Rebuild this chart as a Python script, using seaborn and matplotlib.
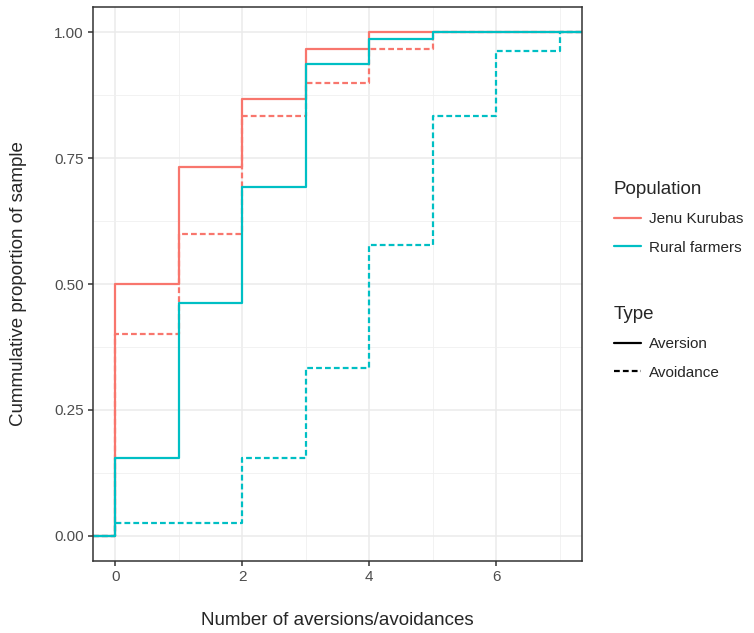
import numpy as np
import pandas as pd
import matplotlib
matplotlib.use("Agg")
import matplotlib.pyplot as plt
from matplotlib.lines import Line2D
from matplotlib.ticker import MultipleLocator, FormatStrFormatter
import seaborn as sns

# ==============================
# DATA (cumulative proportions)
# ==============================
x_levels = [0, 1, 2, 3, 4, 5, 6, 7]

jenu_aversion = [0.500, 0.733, 0.867, 0.967, 1.000]
jenu_avoidance = [0.400, 0.600, 0.833, 0.900, 0.967, 1.000]
rural_aversion = [0.154, 0.462, 0.692, 0.936, 0.987, 1.000]
rural_avoidance = [0.026, 0.026, 0.154, 0.333, 0.577, 0.833, 0.962, 1.000]

populations = ["Jenu Kurubas", "Rural farmers"]
types = ["Aversion", "Avoidance"]
palette = {"Jenu Kurubas": "#F8766D", "Rural farmers": "#00BFC4"}

X_LO, X_HI = -0.35, 7.35
DASHED = (0, (2.6, 1.4))

# ==============================
# TABLE LONG FORMAT
# ==============================
series = [
    ("Jenu Kurubas", "Aversion", jenu_aversion),
    ("Jenu Kurubas", "Avoidance", jenu_avoidance),
    ("Rural farmers", "Aversion", rural_aversion),
    ("Rural farmers", "Avoidance", rural_avoidance),
]
rows = []
for pop, typ, vals in series:
    # pad like stat_ecdf: 0 at left edge, 1 at right edge
    rows.append((pop, typ, X_LO, 0.0))
    for x, v in zip(x_levels, vals):
        rows.append((pop, typ, x, v))
    rows.append((pop, typ, X_HI, 1.0))
df = pd.DataFrame(rows, columns=["Population", "Type", "x", "prop"])

# ==============================
# FIGURE
# ==============================
sns.set_theme(style="white")
plt.rcParams["font.family"] = ["Liberation Sans", "DejaVu Sans"]

fig = plt.figure(figsize=(7.54, 6.33), dpi=100)
ax = fig.add_axes([93 / 754, 1 - 561 / 633, (582 - 93) / 754, (561 - 7) / 633])

for pop, typ, _ in series:
    sub = df[(df.Population == pop) & (df.Type == typ)]
    sns.lineplot(data=sub, x="x", y="prop", ax=ax, color=palette[pop],
                 drawstyle="steps-post", lw=1.6, estimator=None, sort=True,
                 dashes=False,
                 linestyle="-" if typ == "Aversion" else DASHED)

ax.set_xlim(X_LO, X_HI)
ax.set_ylim(-0.05, 1.05)

ax.xaxis.set_major_locator(MultipleLocator(2))
ax.xaxis.set_minor_locator(MultipleLocator(1))
ax.yaxis.set_major_locator(MultipleLocator(0.25))
ax.yaxis.set_minor_locator(MultipleLocator(0.125))
ax.yaxis.set_major_formatter(FormatStrFormatter("%.2f"))

ax.grid(True, which="major", color="#EBEBEB", lw=1.1)
ax.grid(True, which="minor", color="#F0F0F0", lw=0.6)
ax.set_axisbelow(True)
for s in ax.spines.values():
    s.set_color("#333333")
    s.set_linewidth(1.1)

ax.tick_params(which="major", bottom=True, left=True, length=3.5, width=1.1,
               color="#333333", labelsize=11, labelcolor="#4D4D4D", pad=3)
ax.tick_params(which="minor", length=0)

ax.set_xlabel("Number of aversions/avoidances", fontsize=13.5, labelpad=20)
ax.set_ylabel("Cummulative proportion of sample", fontsize=13.5, labelpad=20)

# ==============================
# LEGENDS
# ==============================
pop_handles = [Line2D([], [], color=palette[p], lw=1.6) for p in populations]
type_handles = [Line2D([], [], color="black", lw=1.6, linestyle="-"),
                Line2D([], [], color="black", lw=1.6, linestyle=DASHED)]

leg_kw = dict(loc="upper left", frameon=False, fontsize=11, title_fontsize=13.5,
              handlelength=1.8, handletextpad=0.5, labelspacing=0.95,
              alignment="left")
fig.legend(pop_handles, populations, title="Population",
           bbox_to_anchor=(600 / 754, 1 - 167 / 633), **leg_kw)
fig.legend(type_handles, types, title="Type",
           bbox_to_anchor=(600 / 754, 1 - 292 / 633), **leg_kw)

fig.savefig("out.png", dpi=100)
